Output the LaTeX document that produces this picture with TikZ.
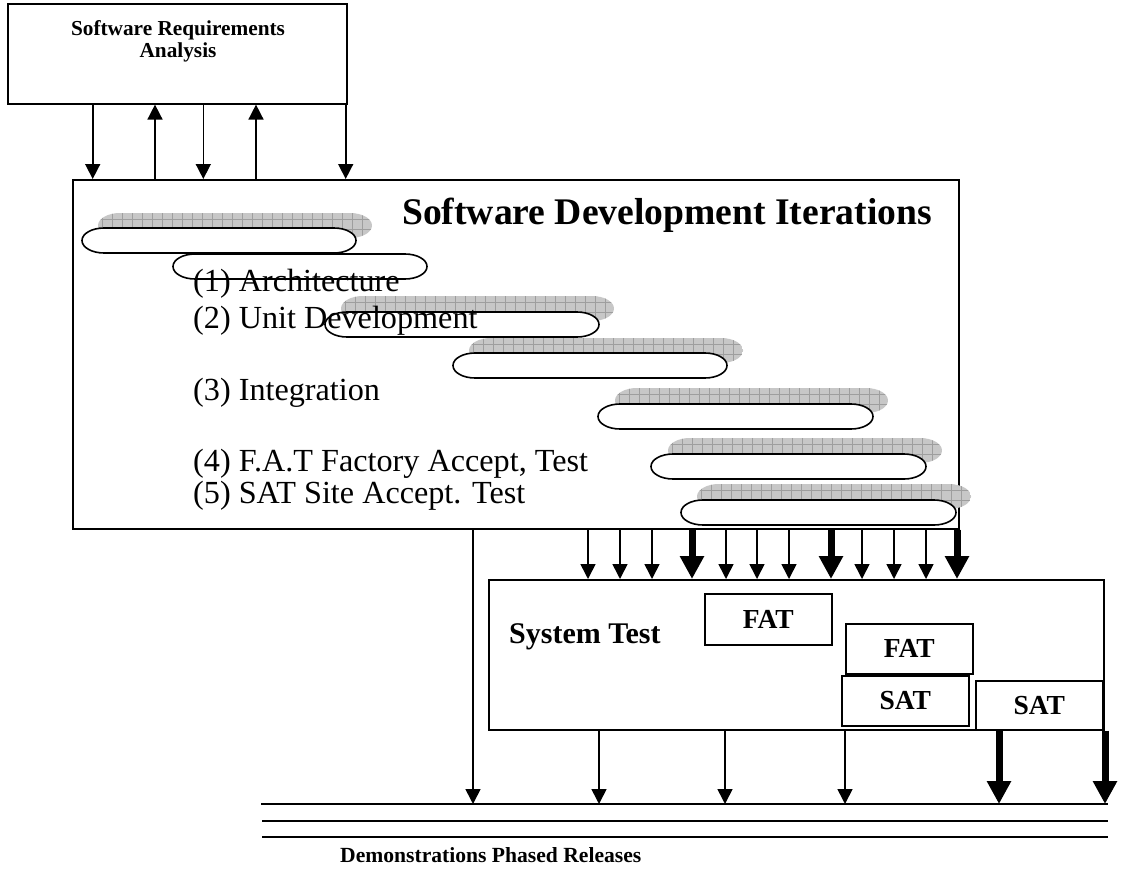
\documentclass[tikz,border=0pt]{standalone}
\usepackage{fontspec}
\setmainfont{Liberation Serif}
\usetikzlibrary{arrows.meta}
\definecolor{shadefill}{gray}{0.78}
\definecolor{shadegrid}{gray}{0.62}
\tikzset{
  box/.style={draw, line width=1.6pt, fill=white, anchor=north west, inner sep=0pt},
  thinarrow/.style={line width=1.6pt, -{Triangle[width=15pt,length=15pt]}},
  thickarrow/.style={line width=7pt, -{Triangle[width=23pt,length=23pt]}},
  pilldraw/.style={draw, line width=1.6pt, fill=white},
  bodytext/.style={anchor=base west, inner sep=0pt, font=\fontsize{32.2}{35}\selectfont},
  testlabel/.style={font=\bfseries\fontsize{27.5}{30}\selectfont},
  relline/.style={line width=1.6pt}
}
% pill outline: x1, x2, ytop (height 25)
\newcommand{\pillpath}[3]{(#1+22,#3) -- (#2-22,#3) arc[start angle=-90,end angle=90,x radius=22,y radius=12.5] -- (#1+22,#3+25) arc[start angle=90,end angle=270,x radius=22,y radius=12.5] -- cycle}
\newcommand{\whitepill}[3]{\path[pilldraw] \pillpath{#1}{#2}{#3};}
\newcommand{\shadepill}[3]{%
  \begin{scope}
    \clip \pillpath{#1}{#2}{#3};
    \fill[shadefill] (#1,#3) rectangle (#2,#3+25);
    \foreach \gx in {4,14,...,300} {\draw[shadegrid, line width=0.6pt] (#1+\gx,#3) -- (#1+\gx,#3+25);}
    \draw[shadegrid, line width=0.6pt] (#1,#3+6) -- (#2,#3+6);
    \draw[shadegrid, line width=0.6pt] (#1,#3+16) -- (#2,#3+16);
  \end{scope}}
\begin{document}
\begin{tikzpicture}[x=1pt,y=-1pt]
\useasboundingbox[fill=white] (0,0) rectangle (1126,872);

% top box
\node[box, minimum width=339pt, minimum height=100pt] (sra) at (7,3) {};
\node[anchor=north, align=center, inner sep=0pt, font=\bfseries\fontsize{21.3}{22}\selectfont] (sratext) at (178,20.5) {Software Requirements\\Analysis};

% main box
\node[box, minimum width=886pt, minimum height=349pt] (sdi) at (72,179) {};
\node[anchor=base west, inner sep=0pt, font=\bfseries\fontsize{37.6}{40}\selectfont] (title) at (402,224) {Software Development Iterations};

% pills
\shadepill{98}{372}{213}
\whitepill{82}{356}{228}
\whitepill{173}{427}{254}
\shadepill{341}{614}{296}
\whitepill{325}{599}{312}
\shadepill{469}{743}{338}
\whitepill{453}{727}{353}
\shadepill{615}{888}{388}
\whitepill{598}{873}{404}
\shadepill{668}{942}{438}
\whitepill{651}{926}{454}
\shadepill{697}{971}{484}
\whitepill{681}{956}{500}

% phase texts
\node[bodytext] (t1) at (193,291) {(1) Architecture};
\node[bodytext] (t2) at (193,328) {(2) Unit Development};
\node[bodytext] (t3) at (193,400) {(3) Integration};
\node[bodytext] (t4) at (193,471) {(4) F.A.T Factory Accept, Test};
\node[bodytext] (t5) at (193,503) {(5) SAT Site Accept. Test};

% system test
\node[box, minimum width=615pt, minimum height=150pt] (sys) at (488,579) {};
\node[anchor=base west, inner sep=0pt, font=\bfseries\fontsize{30}{32}\selectfont] (systext) at (509,643) {System Test};
\node[box, minimum width=127pt, minimum height=51pt] (fat1) at (704,593) {};
\node[testlabel] at (fat1.center) {FAT};
\node[box, minimum width=127pt, minimum height=50pt] (fat2) at (845,623) {};
\node[testlabel] at (fat2.center) {FAT};
\node[box, minimum width=127pt, minimum height=50pt] (sat1) at (841,675) {};
\node[testlabel] at (sat1.center) {SAT};
\node[box, minimum width=127pt, minimum height=49pt] (sat2) at (975,680) {};
\node[testlabel] at (sat2.center) {SAT};

% release lines
\coordinate (r1w) at (261,804); \coordinate (r1e) at (1108,804);
\coordinate (r2w) at (262,821); \coordinate (r2e) at (1108,821);
\coordinate (r3w) at (262,837); \coordinate (r3e) at (1108,837);
\draw[relline] (r1w) -- (r1e);
\draw[relline] (r2w) -- (r2e);
\draw[relline] (r3w) -- (r3e);
\node[anchor=base west, inner sep=0pt, font=\bfseries\fontsize{21.6}{24}\selectfont] (demo) at (340,862) {Demonstrations Phased Releases};

% arrows between requirements and iterations
\draw[thinarrow] (92.7,0 |- sra.south) -- (92.7,0 |- sdi.north);
\draw[thinarrow] (155,0 |- sdi.north) -- (155,0 |- sra.south);
\draw[thinarrow] (203.3,0 |- sra.south) -- (203.3,0 |- sdi.north);
\draw[thinarrow] (256,0 |- sdi.north) -- (256,0 |- sra.south);
\draw[thinarrow] (345.7,0 |- sra.south) -- (345.7,0 |- sdi.north);

% arrows from iterations to system test
\foreach \ax in {588,620,652,726,757,789,862,894,926} {
  \draw[thinarrow] (\ax,0 |- sdi.south) -- (\ax,0 |- sys.north);
}
\foreach \ax in {692,831,957} {
  \draw[thickarrow] (\ax,0 |- sdi.south) -- (\ax,0 |- sys.north);
}

% arrows to releases
\draw[thinarrow] (473,0 |- sdi.south) -- (473,0 |- r1w);
\foreach \ax in {599,725,845} {
  \draw[thinarrow] (\ax,0 |- sys.south) -- (\ax,0 |- r1w);
}
\draw[thickarrow] (999,0 |- sat2.south) -- (999,0 |- r1w);
\draw[thickarrow] (1105,0 |- sys.south) -- (1105,0 |- r1w);
\end{tikzpicture}
\end{document}
